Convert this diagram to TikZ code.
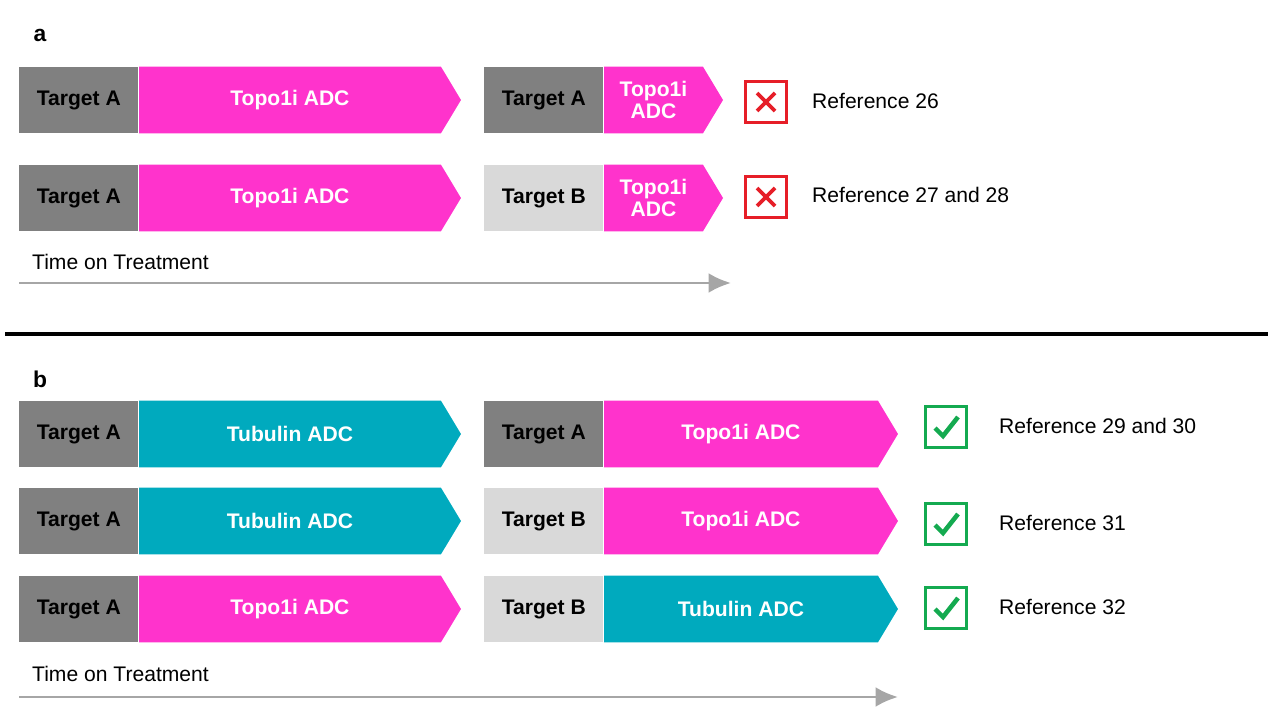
\documentclass[tikz,border=0pt]{standalone}
\usepackage{fontspec}
\setmainfont{Liberation Sans}
\usetikzlibrary{calc,positioning,shapes.symbols,arrows.meta}
\definecolor{tgray}{RGB}{128,128,128}
\definecolor{tlight}{RGB}{217,217,217}
\definecolor{topo}{RGB}{255,51,204}
\definecolor{tub}{RGB}{0,170,190}
\definecolor{nored}{RGB}{230,30,40}
\definecolor{okgreen}{RGB}{20,170,80}
\tikzstyle{tgt}=[rectangle,inner sep=0,minimum width=2.38cm,minimum height=1.34cm,
  font=\fontsize{12}{13}\selectfont\bfseries,anchor=west]
\tikzstyle{adc}=[signal,signal to=east,signal pointer angle=118,inner sep=0,
  minimum height=1.34cm,text=white,align=center,
  font=\fontsize{12}{13}\selectfont\bfseries,anchor=west]
\tikzstyle{reftxt}=[anchor=west,font=\fontsize{12}{13}\selectfont]
\tikzstyle{markbox}=[draw,line width=2pt,minimum size=0.82cm,inner sep=0]
\tikzstyle{timeline}=[gray!70,line width=1.6pt,-{Latex[length=4.5mm,width=4mm]}]

\begin{document}
\begin{tikzpicture}[x=0.02cm,y=-0.02cm]
    \useasboundingbox (0,0) rectangle (1271,722);

    \node [font=\fontsize{13}{14}\selectfont\bfseries] (la) at (40,35) {a};
    \node [font=\fontsize{13}{14}\selectfont\bfseries] (lb) at (40,379) {b};

    % panel a
    \node [tgt,fill=tgray] (a1t) at (19,100) {Target A};
    \node [adc,fill=topo,minimum width=6.44cm] (a1d) at (a1t.east) {Topo1i ADC};
    \node [tgt,fill=tgray] (a1s) at (484,100) {Target A};
    \node [adc,fill=topo,minimum width=2.38cm] (a1e) at (a1s.east) {Topo1i\\ADC};
    \node [markbox,draw=nored] (a1m) at (766,102) {};
    \node [reftxt] (a1r) at (806,101) {Reference 26};

    \node [tgt,fill=tgray] (a2t) at (19,198) {Target A};
    \node [adc,fill=topo,minimum width=6.44cm] (a2d) at (a2t.east) {Topo1i ADC};
    \node [tgt,fill=tlight] (a2s) at (484,198) {Target B};
    \node [adc,fill=topo,minimum width=2.38cm] (a2e) at (a2s.east) {Topo1i\\ADC};
    \node [markbox,draw=nored] (a2m) at (766,197) {};
    \node [reftxt] (a2r) at (806,195) {Reference 27 and 28};

    % crosses
    \foreach \m in {a1m,a2m} {
      \draw [nored,line width=2.2pt] ($(\m.center)+(-9,-9)$) -- ($(\m.center)+(9,9)$);
      \draw [nored,line width=2.2pt] ($(\m.center)+(-9,9)$) -- ($(\m.center)+(9,-9)$);
    }

    \node [reftxt] (ta) at (26,262) {Time on Treatment};
    \coordinate (ta0) at (19,283);
    \coordinate (ta1) at (731,283);
    \draw [timeline] (ta0) -- (ta1);

    \coordinate (s0) at (5,334);
    \coordinate (s1) at (1268,334);
    \draw [line width=2.5pt] (s0) -- (s1);

    % panel b
    \node [tgt,fill=tgray] (b1t) at (19,434) {Target A};
    \node [adc,fill=tub,minimum width=6.44cm] (b1d) at (b1t.east) {Tubulin ADC};
    \node [tgt,fill=tgray] (b1s) at (484,434) {Target A};
    \node [adc,fill=topo,minimum width=5.88cm] (b1e) at (b1s.east) {Topo1i ADC};
    \node [markbox,draw=okgreen] (b1m) at (946,427) {};
    \node [reftxt] (b1r) at (993,426) {Reference 29 and 30};

    \node [tgt,fill=tgray] (b2t) at (19,521) {Target A};
    \node [adc,fill=tub,minimum width=6.44cm] (b2d) at (b2t.east) {Tubulin ADC};
    \node [tgt,fill=tlight] (b2s) at (484,521) {Target B};
    \node [adc,fill=topo,minimum width=5.88cm] (b2e) at (b2s.east) {Topo1i ADC};
    \node [markbox,draw=okgreen] (b2m) at (946,524) {};
    \node [reftxt] (b2r) at (993,523) {Reference 31};

    \node [tgt,fill=tgray] (b3t) at (19,609) {Target A};
    \node [adc,fill=topo,minimum width=6.44cm] (b3d) at (b3t.east) {Topo1i ADC};
    \node [tgt,fill=tlight] (b3s) at (484,609) {Target B};
    \node [adc,fill=tub,minimum width=5.88cm] (b3e) at (b3s.east) {Tubulin ADC};
    \node [markbox,draw=okgreen] (b3m) at (946,608) {};
    \node [reftxt] (b3r) at (993,607) {Reference 32};

    % checks
    \foreach \m in {b1m,b2m,b3m} {
      \draw [okgreen,line width=2.6pt] ($(\m.center)+(-11,1)$) -- ($(\m.center)+(-3,9)$)
        -- ($(\m.center)+(12,-10)$);
    }

    \node [reftxt] (tb) at (26,674) {Time on Treatment};
    \coordinate (tb0) at (19,697);
    \coordinate (tb1) at (898,697);
    \draw [timeline] (tb0) -- (tb1);
\end{tikzpicture}
\end{document}
